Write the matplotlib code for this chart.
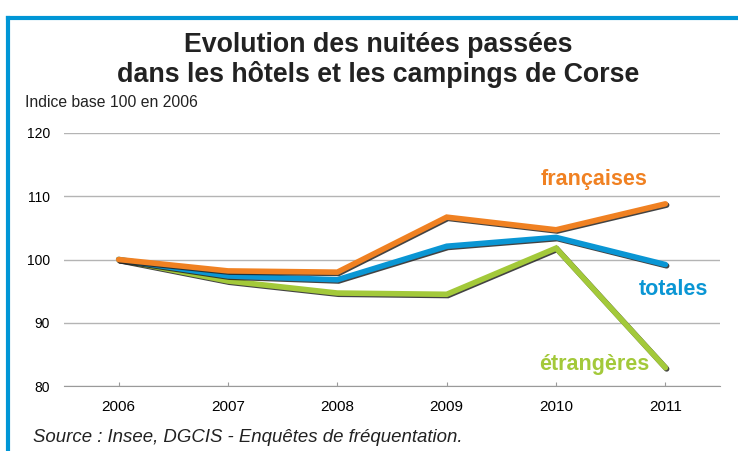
import matplotlib.pyplot as plt
import matplotlib.patheffects as pe
from matplotlib.lines import Line2D

# Data (index base 100 in 2006)
years = [2006, 2007, 2008, 2009, 2010, 2011]
francaises = [100, 98.2, 98.0, 106.7, 104.7, 108.8]
totales = [100, 97.4, 96.8, 102.1, 103.5, 99.2]
etrangeres = [100, 96.6, 94.7, 94.5, 101.8, 82.9]
y_ticks = [80, 90, 100, 110, 120]

orange = "#F08122"
blue = "#0A96D4"
green = "#A3C93A"

plt.rcParams["font.family"] = ["Liberation Sans", "DejaVu Sans"]

fig = plt.figure(figsize=(7.38, 4.51), dpi=100)
ax = fig.add_axes([0.0867, 0.1441, 0.889, 0.561])

shadow = [pe.SimpleLineShadow(offset=(0.9, -0.9), shadow_color="#222222", alpha=0.85),
          pe.Normal()]
for vals, col in [(etrangeres, green), (totales, blue), (francaises, orange)]:
    ax.plot(years, vals, color=col, lw=4, solid_capstyle="round",
            solid_joinstyle="miter", path_effects=shadow, zorder=3)

ax.set_xlim(2005.5, 2011.5)
ax.set_ylim(80, 120)
ax.set_yticks(y_ticks)
ax.set_xticks(years)
ax.grid(axis="y", color="#b4b4b4", lw=1)
for s in ["top", "right", "left"]:
    ax.spines[s].set_visible(False)
ax.spines["bottom"].set_color("#9a9a9a")
ax.tick_params(axis="y", length=0, labelsize=10, pad=10)
ax.tick_params(axis="x", direction="in", length=3, color="#9a9a9a",
               labelsize=11, pad=10)

# series labels
ax.text(2010.35, 112.7, "françaises", color=orange, fontsize=15.5, fontweight="bold",
        ha="center", va="center")
ax.text(2011.07, 95.2, "totales", color=blue, fontsize=15.5, fontweight="bold",
        ha="center", va="center")
ax.text(2010.35, 83.4, "étrangères", color=green, fontsize=15.5, fontweight="bold",
        ha="center", va="center")

fig.text(0.512, 0.90, "Evolution des nuitées passées", fontsize=19.3,
         fontweight="bold", ha="center", va="center", color="#222222")
fig.text(0.512, 0.834, "dans les hôtels et les campings de Corse", fontsize=19.3,
         fontweight="bold", ha="center", va="center", color="#222222")
fig.text(0.034, 0.772, "Indice base 100 en 2006", fontsize=11.3, ha="left",
         va="center", color="#222222")
fig.text(0.045, 0.031, "Source : Insee, DGCIS - Enquêtes de fréquentation.",
         fontsize=13.4, style="italic", ha="left", va="center", color="#222222")

# blue frame on top and left
fig.add_artist(Line2D([0.0108, 1.0], [0.961, 0.961], color="#0096D6", lw=3,
                      transform=fig.transFigure))
fig.add_artist(Line2D([0.0108, 0.0108], [0.0, 0.961], color="#0096D6", lw=3,
                      transform=fig.transFigure))

fig.savefig("out.png", dpi=100)
